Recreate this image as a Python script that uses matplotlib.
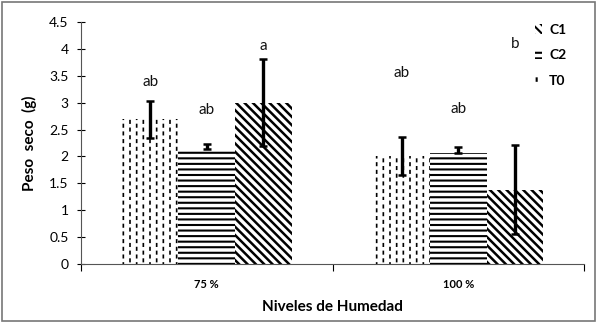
import matplotlib
matplotlib.use("Agg")
import matplotlib.pyplot as plt
from matplotlib.patches import Rectangle, Patch
from matplotlib import hatch as mhatch
from matplotlib.path import Path
import numpy as np

plt.rcParams['font.family'] = ['Lato', 'DejaVu Sans']
plt.rcParams['hatch.linewidth'] = 1.5


class DashedVerticalHatch(mhatch.HatchPatternBase):
    """'|' draws staggered vertical dashes instead of solid lines."""
    def __init__(self, hatch, density):
        cnt = hatch.count('|') + hatch.count('+')
        self.ncols = 15 if cnt > 0 else 0
        self.nd = 13
        self.dash = 0.024
        self.num_vertices = self.ncols * self.nd * 2

    def set_vertices_and_codes(self, vertices, codes):
        if self.num_vertices == 0:
            return
        k = 0
        for c in range(self.ncols):
            xc = (c + 0.5) / self.ncols
            shift = 0.5 / self.nd if c % 2 else 0.0
            for d in range(self.nd):
                y0 = (d / self.nd + shift) % 1.0
                vertices[k] = (xc, y0)
                vertices[k + 1] = (xc, y0 + self.dash)
                codes[k] = Path.MOVETO
                codes[k + 1] = Path.LINETO
                k += 2


mhatch._hatch_types = [DashedVerticalHatch if t is mhatch.VerticalHatch else t
                       for t in mhatch._hatch_types]

categories = ["75 %", "100 %"]
series = ["T0", "C2", "C1"]
values = {
    "T0": [2.69, 2.01],
    "C2": [2.14, 2.06],
    "C1": [3.00, 1.38],
}
err_low = {
    "T0": [0.35, 0.36],
    "C2": [0.0, 0.0],
    "C1": [0.81, 0.83],
}
err_high = {
    "T0": [0.35, 0.36],
    "C2": [0.10, 0.12],
    "C1": [0.81, 0.83],
}
letters = {
    "T0": ["ab", "ab"],
    "C2": ["ab", "ab"],
    "C1": ["a", "b"],
}
letter_y = {
    "T0": [3.39, 3.55],
    "C2": [2.87, 2.88],
    "C1": [4.06, 4.10],
}
hatches = {"T0": "|", "C2": "---", "C1": "\\\\\\\\"}
hatch_lw = {"T0": 1.2, "C2": 1.5, "C1": 1.8}
legend_order = ["C1", "C2", "T0"]

fig = plt.figure(figsize=(5.98, 3.23), dpi=100)
ax = fig.add_axes([0.1355, 0.1827, 0.9766 - 0.1355, 0.9319 - 0.1827])

x = np.arange(len(categories))
width = 0.225
offsets = {"T0": -width, "C2": 0.0, "C1": width}

for s in series:
    xs = x + offsets[s]
    bars = ax.bar(xs, values[s], width=width, color="white", edgecolor="black",
                  hatch=hatches[s], linewidth=0, zorder=2)
    for b in bars:
        if hasattr(b, "set_hatch_linewidth"):
            b.set_hatch_linewidth(hatch_lw[s])
    ax.errorbar(xs, values[s], yerr=[err_low[s], err_high[s]], fmt="none",
                ecolor="black", elinewidth=2.4, capsize=3, capthick=1.8, zorder=3)
    for xi, lab, ly in zip(xs, letters[s], letter_y[s]):
        ax.text(xi, ly, lab, ha="center", va="center", fontsize=11, color="#111111")

ax.set_xlim(-0.5, 1.5)
ax.set_ylim(0, 4.5)
ax.set_yticks(np.arange(0, 4.51, 0.5))
ax.set_yticklabels(["0", "0.5", "1", "1.5", "2", "2.5", "3", "3.5", "4", "4.5"])
ax.tick_params(axis="y", direction="inout", length=6, width=0.8, labelsize=10, pad=6)

ax.set_xticks([-0.5, 0.5, 1.5])
ax.set_xticklabels([])
ax.set_xticks(x, minor=True)
ax.set_xticklabels(categories, minor=True, fontweight="bold", fontsize=8)
ax.tick_params(axis="x", which="major", direction="out", length=5, width=0.8)
ax.tick_params(axis="x", which="minor", length=0, pad=11)

for sp in ["top", "right"]:
    ax.spines[sp].set_visible(False)
ax.spines["left"].set_color("#555555")
ax.spines["bottom"].set_color("#555555")

ax.set_ylabel("Peso  seco  (g)", fontweight="bold", fontsize=11, labelpad=9)
ax.set_xlabel("Niveles de Humedad", fontweight="bold", fontsize=11, labelpad=7)

handles = []
for s in legend_order:
    h = Patch(facecolor="white", edgecolor="black", hatch=hatches[s], linewidth=0)
    if hasattr(h, "set_hatch_linewidth"):
        h.set_hatch_linewidth(hatch_lw[s])
    handles.append(h)
leg = ax.legend(handles, legend_order, loc="upper right", bbox_to_anchor=(0.99, 1.045),
                frameon=False, handlelength=0.5, handleheight=0.7, handletextpad=0.5,
                labelspacing=1.0, prop={"weight": "bold", "size": 10})

fig.patches.append(Rectangle((0.003, 0.005), 0.992, 0.99, transform=fig.transFigure,
                             fill=False, edgecolor="#777777", linewidth=1.2))

fig.savefig("out.png", dpi=100)
